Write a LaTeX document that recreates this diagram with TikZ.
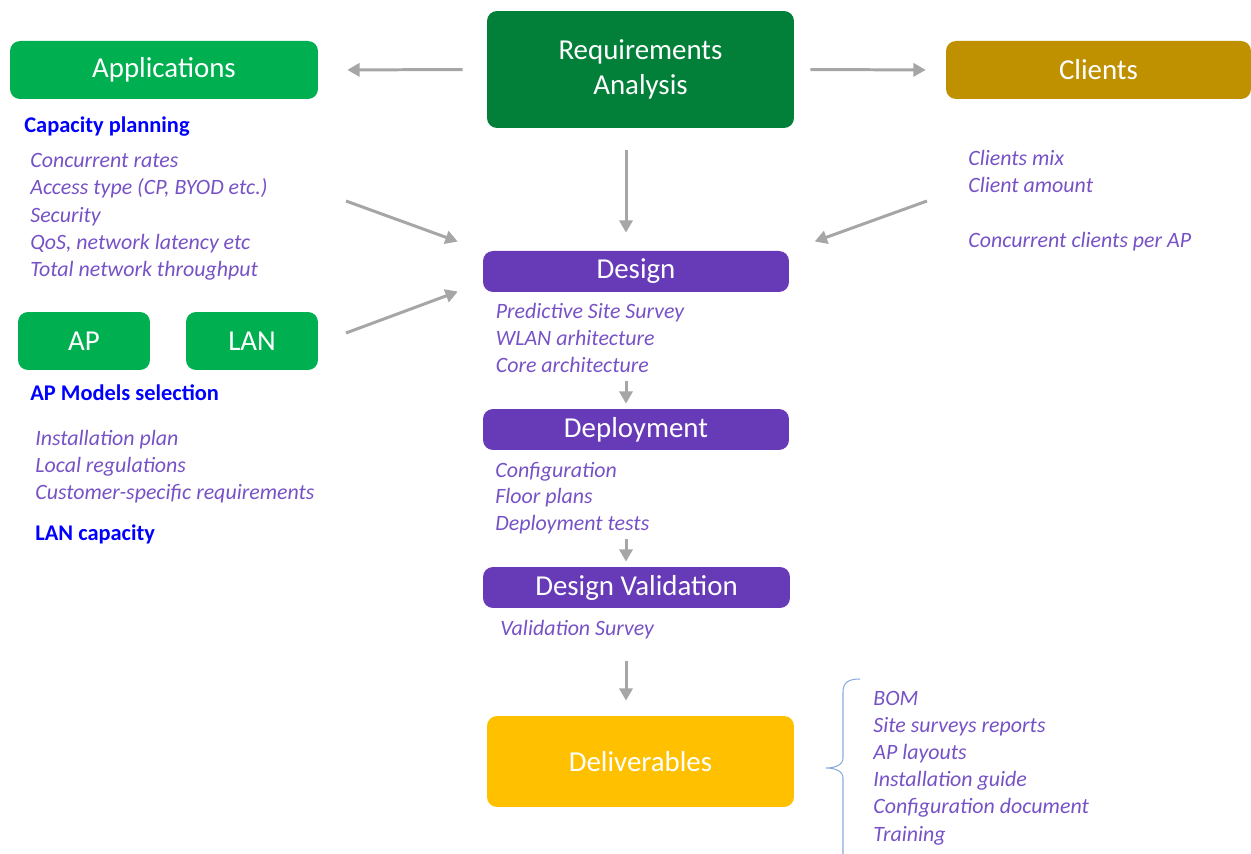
\documentclass[tikz,border=0pt]{standalone}
\usepackage{fontspec}
\setmainfont{Carlito}
\usetikzlibrary{arrows.meta,calc}
\definecolor{appgreen}{HTML}{00B050}
\definecolor{reqgreen}{HTML}{02803A}
\definecolor{clientgold}{HTML}{BF9000}
\definecolor{stagepurple}{HTML}{673AB7}
\definecolor{delivgold}{HTML}{FFC000}
\definecolor{arrowgray}{HTML}{A6A6A6}
\definecolor{itempurple}{HTML}{7652C6}
\definecolor{headblue}{HTML}{0000FF}
\definecolor{bracecol}{HTML}{8EA9DB}
\begin{document}
\begin{tikzpicture}[x=0.02cm,y=-0.02cm,
  box/.style={rectangle, rounded corners=0.2cm, inner sep=0pt, text=white,
    font=\fontsize{16.44pt}{19.8pt}\selectfont, align=center},
  arr/.style={draw=arrowgray, line width=1.7pt, -{Triangle[length=7pt,width=7.5pt]}},
  item/.style={anchor=base west, inner sep=0pt, text=itempurple,
    font=\fontsize{12.47pt}{15pt}\selectfont\itshape},
  head/.style={anchor=base west, inner sep=0pt, text=headblue,
    font=\fontsize{12.76pt}{15pt}\selectfont\bfseries},
  bracestyle/.style={draw=bracecol, line width=0.6pt}]
\useasboundingbox (0,0) rectangle (1251,854);

% boxes
\node[box, fill=appgreen, minimum width=6.16cm, minimum height=1.16cm] (app) at (164,70) {Applications};
\node[box, fill=reqgreen, minimum width=6.14cm, minimum height=2.34cm] (req) at (640.5,69.5) {Requirements\\Analysis};
\node[box, fill=clientgold, minimum width=6.1cm, minimum height=1.16cm] (cli) at (1098.5,70) {Clients};
\node[box, fill=appgreen, minimum width=2.64cm, minimum height=1.16cm] (ap) at (84,341) {AP};
\node[box, fill=appgreen, minimum width=2.64cm, minimum height=1.16cm] (lan) at (252,341) {LAN};
\node[box, fill=stagepurple, minimum width=6.12cm, minimum height=0.82cm] (dsg) at (636,271.5) {Design};
\node[box, fill=stagepurple, minimum width=6.12cm, minimum height=0.82cm] (dep) at (636,429.5) {Deployment};
\node[box, fill=stagepurple, minimum width=6.14cm, minimum height=0.82cm] (val) at (636.5,587.5) {Design Validation};
\node[box, fill=delivgold, minimum width=6.14cm, minimum height=1.82cm] (del) at (640.5,761.5) {Deliverables};

% headings
\node[head] (caphead) at (24,133) {Capacity planning};
\node[head] (aphead) at (30,401) {AP Models selection};
\node[head] (lanhead) at (35,540.7) {LAN capacity};

% lists
\foreach \t/\yy [count=\i] in {Concurrent rates/168, {Access type (CP, BYOD etc.)}/195, Security/222.5, {QoS, network latency etc}/249.5, Total network throughput/277}
  \node[item, name=cap\i] at (30,\yy) {\t};
\foreach \t/\yy [count=\i] in {Installation plan/445.7, Local regulations/472.7, Customer-specific requirements/500}
  \node[item, name=apl\i] at (35,\yy) {\t};
\foreach \t/\yy [count=\i] in {Clients mix/165.7, Client amount/192.7, Concurrent clients per AP/247.3}
  \node[item, name=cl\i] at (968,\yy) {\t};
\foreach \t/\yy [count=\i] in {Predictive Site Survey/318.3, WLAN arhitecture/346, Core architecture/372.7}
  \node[item, name=ds\i] at (495.5,\yy) {\t};
\foreach \t/\yy [count=\i] in {Configuration/477.3, Floor plans/504, Deployment tests/531}
  \node[item, name=dp\i] at (495,\yy) {\t};
\node[item] (vs1) at (500,635) {Validation Survey};
\foreach \t/\yy [count=\i] in {BOM/705, Site surveys reports/732.3, AP layouts/759.5, Installation guide/786.7, Configuration document/813.3, Training/841}
  \node[item, name=dl\i] at (873,\yy) {\t};

% axis coordinate for vertical arrows
\coordinate (axis) at (626,0);
\coordinate (capout) at (346,201);
\coordinate (lanout) at (346,333);
\coordinate (cliout) at (927,201);
\coordinate (dsgin) at ($(dsg.south west)+(0,-10)$);

% connectors
\draw[arr, shorten <=0.48cm, shorten >=0.58cm] (req.west) -- (app.east);
\draw[arr, shorten <=0.32cm, shorten >=0.4cm] (req.east) -- (cli.west);
\draw[arr, shorten <=0.44cm, shorten >=0.36cm] (req.south -| axis) -- (dsg.north -| axis);
\draw[arr, shorten >=0.532cm] (capout) -- (dsg.north west);
\draw[arr, shorten >=0.53cm] (lanout) -- (dsgin);
\draw[arr, shorten >=0.54cm] (cliout) -- (dsg.north east);
\draw[arr, shorten <=1.78cm, shorten >=0.1cm] (dsg.south -| axis) -- (dep.north -| axis);
\draw[arr, shorten <=1.78cm, shorten >=0.1cm] (dep.south -| axis) -- (val.north -| axis);
\draw[arr, shorten <=1.06cm, shorten >=0.3cm] (val.south -| axis) -- (del.north -| axis);

% brace
\draw[bracestyle] (860,679) .. controls (849,679) and (843,682) .. (843,692) -- (843,758)
  .. controls (843,765) and (835,768) .. (826,768)
  .. controls (835,768) and (843,771) .. (843,778) -- (843,856);
\end{tikzpicture}
\end{document}
